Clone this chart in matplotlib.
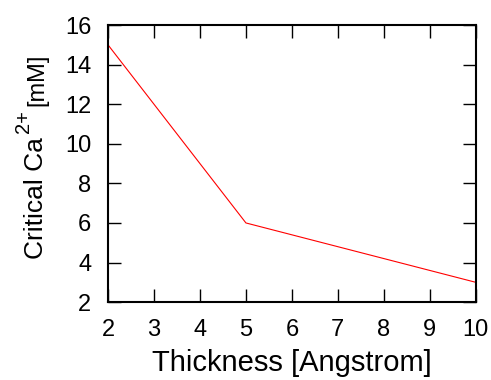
import matplotlib.pyplot as plt

# dados
espessura = [2, 5, 10]
ca_critico = [15, 6, 3]

plt.rcParams['font.family'] = ['Liberation Sans', 'DejaVu Sans']

W, H = 491, 380
fig = plt.figure(figsize=(W / 100, H / 100), dpi=100)
ax = fig.add_axes([0.22, 0.205, 0.749, 0.729])

ax.plot(espessura, ca_critico, color='red', linewidth=0.8)

ax.set_xlim(2, 10)
ax.set_ylim(2, 16)
ax.set_xticks(range(2, 11))
ax.set_yticks(range(2, 17, 2))

ax.tick_params(direction='in', length=9.5, width=1.0, top=True, right=True,
               labelsize=17, pad=12)
for s in ax.spines.values():
    s.set_linewidth(1.5)

ax.set_xlabel("Thickness [Angstrom]", fontsize=21, labelpad=6)


# rótulo do eixo y em três pedaços (texto, expoente, unidade)
def ytexto(px, py, s, tam):
    fig.text(px / W, 1 - py / H, s, fontsize=tam, rotation=90,
             rotation_mode='anchor', ha='left', va='baseline')


ytexto(43, 259, "Critical Ca", 19)
ytexto(29, 133, "2+", 14.5)
ytexto(43, 106, "[mM]", 17)

fig.savefig("out.png", dpi=100)
